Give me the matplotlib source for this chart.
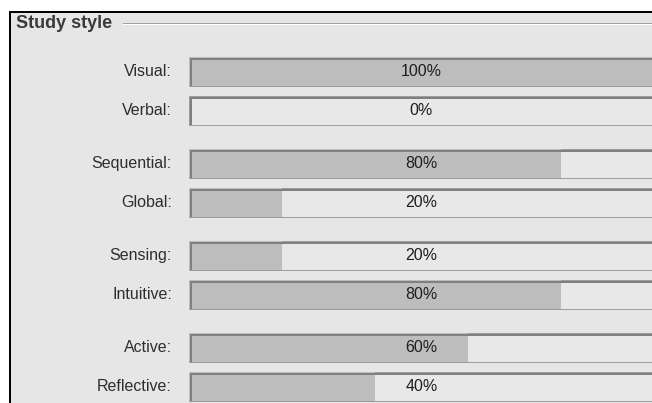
import matplotlib
matplotlib.use('Agg')
import matplotlib.pyplot as plt
from matplotlib.patches import Rectangle

plt.rcParams['font.family'] = ['Liberation Sans', 'DejaVu Sans']

# ---------------------- data ----------------------
title = 'Study style'
labels = ['Visual', 'Verbal', 'Sequential', 'Global',
          'Sensing', 'Intuitive', 'Active', 'Reflective']
values = [100, 0, 80, 20, 20, 80, 60, 40]
groups = [0, 0, 1, 1, 2, 2, 3, 3]
rows = [0, 1, 0, 1, 0, 1, 0, 1]

# ---------------------- layout (pixels) ----------------------
W, H = 652, 403
bar_left, bar_right = 189, 654
bar_h = 29
first_top, group_step, row_step = 57, 92, 39
label_x = 172

bg = '#e6e6e6'
fill = '#bdbdbd'
txt = '#2e2e2e'
px = 0.72  # 1 pixel in points at dpi 100

tops = [first_top + g * group_step + r * row_step for g, r in zip(groups, rows)]
centers = [t + bar_h / 2 for t in tops]

fig = plt.figure(figsize=(W / 100, H / 100), dpi=100, facecolor='white')
ax = fig.add_axes([0, 0, 1, 1])
ax.set_xlim(0, W)
ax.set_ylim(H, 0)
ax.axis('off')

# panel background and black frame
ax.add_patch(Rectangle((9.5, 12), W, H, facecolor=bg, edgecolor='none', zorder=0))
ax.plot([9.5, 9.5], [11, H], color='black', lw=2 * px, solid_capstyle='butt')
ax.plot([8.5, W], [12, 12], color='black', lw=2 * px, solid_capstyle='butt')

# group box title with etched line
ax.text(16, 23.5, title, fontsize=13, fontweight='bold', color='#3a3a3a',
        ha='left', va='center')
ax.plot([123, W], [23, 23], color='#a0a0a0', lw=px)
ax.plot([123, W], [24, 24], color='white', lw=px)

# labels
for lab, yc in zip(labels, centers):
    ax.text(label_x, yc, lab + ':', fontsize=11.5, color=txt, ha='right', va='center')

# ---------------------- bars (x in percent) ----------------------
bx = fig.add_axes([bar_left / W, 0, (bar_right - bar_left) / W, 1])
bx.set_xlim(0, 100)
bx.set_ylim(H, 0)
bx.axis('off')
bx.patch.set_alpha(0)

bx.barh(centers, [100] * len(values), height=bar_h, color='#e8e8e8',
        edgecolor='#9c9c9c', linewidth=px, zorder=1)
bx.barh(centers, values, height=bar_h, color=fill, linewidth=0, zorder=2)

# inner shadow on top and left edge (pixel coordinates)
for t in tops:
    bx.plot([bar_left + 0.5, W], [t + 1.5, t + 1.5], color='#808080', lw=2 * px,
            solid_capstyle='butt', zorder=3, transform=ax.transData, clip_on=False)
    bx.plot([bar_left + 1.5, bar_left + 1.5], [t + 0.5, t + bar_h - 0.5],
            color='#808080', lw=2 * px, solid_capstyle='butt', zorder=3,
            transform=ax.transData, clip_on=False)

for v, yc in zip(values, centers):
    bx.text(50, yc, f'{v}%', fontsize=11.5, color='#1e1e1e', ha='center',
            va='center', zorder=4)

fig.savefig('out.png', dpi=100, facecolor='white')
